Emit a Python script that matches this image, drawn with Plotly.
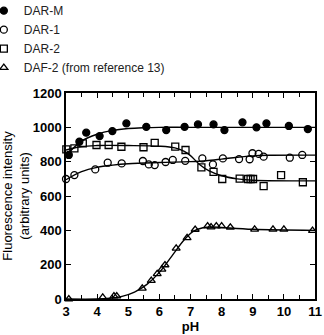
import plotly.graph_objects as go

# --- data ---
darm_ph = [3.09, 3.43, 3.65, 4.08, 4.49, 4.94, 5.58, 6.22, 6.81, 7.24, 7.74, 8.09, 8.67, 9.12, 9.44, 10.16, 10.77]
darm_val = [839, 916, 969, 949, 978, 1023, 1003, 984, 1003, 1017, 1017, 984, 1029, 1000, 1023, 1008, 990]
darm_fit_ph = [3.0, 3.5, 4.0, 4.5, 5.0, 5.5, 6.0, 7.0, 11.0]
darm_fit_val = [835, 920, 960, 982, 993, 998, 1000, 1000, 1000]

dar1_ph = [3.0, 3.27, 3.94, 4.34, 4.79, 5.47, 5.66, 5.85, 6.20, 6.43, 6.83, 7.38, 7.72, 8.04, 8.56, 8.90, 8.99, 9.19, 9.35, 10.19, 10.59]
dar1_val = [699, 722, 755, 794, 790, 804, 784, 780, 798, 810, 805, 819, 784, 819, 815, 814, 849, 845, 829, 823, 839]
dar1_fit_ph = [3.0, 3.5, 4.0, 4.5, 5.0, 6.0, 7.0, 7.5, 8.0, 8.5, 9.0, 9.5, 11.0]
dar1_fit_val = [695, 742, 767, 780, 788, 795, 800, 805, 815, 826, 834, 837, 838]

dar2_ph = [3.01, 3.27, 3.54, 3.98, 4.37, 4.78, 5.49, 5.85, 6.51, 6.84, 7.35, 7.74, 8.02, 8.58, 8.85, 8.93, 9.01, 9.35, 9.91, 10.61]
dar2_val = [872, 878, 907, 897, 897, 887, 884, 909, 888, 868, 767, 740, 699, 701, 699, 699, 699, 658, 722, 680]
dar2_fit_ph = [3.0, 3.5, 4.0, 5.0, 6.0, 6.5, 6.8, 7.0, 7.3, 7.6, 8.0, 8.5, 9.0, 11.0]
dar2_fit_val = [868, 888, 894, 894, 890, 880, 860, 835, 782, 746, 718, 700, 692, 688]

daf2_ph = [3.09, 4.18, 4.54, 4.63, 5.45, 5.74, 5.93, 6.08, 6.18, 6.54, 6.89, 7.15, 7.55, 7.66, 7.83, 8.00, 8.28, 9.06, 9.65, 10.00, 10.92]
daf2_val = [0, 10, 17, 17, 62, 107, 146, 173, 198, 295, 356, 405, 425, 419, 425, 425, 418, 406, 406, 406, 398]
daf2_fit_ph = [3.0, 4.0, 4.4, 4.8, 5.2, 5.6, 6.0, 6.4, 6.8, 7.1, 7.4, 7.7, 8.0, 9.0, 11.0]
daf2_fit_val = [0, 0, 4, 15, 40, 85, 155, 250, 345, 395, 415, 420, 417, 406, 400]

names = ["DAR-M", "DAR-1", "DAR-2", "DAF-2 (from reference 13)"]
symbols = ["circle", "circle-open", "square-open", "triangle-up-open"]

x_ticks = [3, 4, 5, 6, 7, 8, 9, 10, 11]
y_ticks = [0, 200, 400, 600, 800, 1000, 1200]

FONT = "Liberation Sans, Arial, Helvetica, sans-serif"

fig = go.Figure()
series = [
    (darm_ph, darm_val, darm_fit_ph, darm_fit_val),
    (dar1_ph, dar1_val, dar1_fit_ph, dar1_fit_val),
    (dar2_ph, dar2_val, dar2_fit_ph, dar2_fit_val),
    (daf2_ph, daf2_val, daf2_fit_ph, daf2_fit_val),
]
for (px, pv, fx, fv), nm, sym in zip(series, names, symbols):
    fig.add_trace(go.Scatter(
        x=fx, y=fv, mode="lines", line=dict(color="black", width=1.4, shape="spline", smoothing=1.0),
        showlegend=False, hoverinfo="skip", cliponaxis=False))
for (px, pv, fx, fv), nm, sym in zip(series, names, symbols):
    fig.add_trace(go.Scatter(
        x=px, y=pv, mode="markers", name=nm,
        marker=dict(symbol=sym, size=7, color="black",
                    line=dict(color="black", width=1.3)),
        cliponaxis=False))

axis_common = dict(
    showline=True, linecolor="black", linewidth=1.5, mirror="ticks",
    ticks="inside", ticklen=5, tickwidth=1.2, tickcolor="black",
    showgrid=False, zeroline=False,
    tickfont=dict(family=FONT, size=13, color="black", weight="bold"),
)

fig.update_xaxes(
    range=[3, 11], tickvals=x_ticks, ticktext=[str(v) for v in x_ticks],
    minor=dict(dtick=0.5, ticks="inside", ticklen=4, tickcolor="black", tickwidth=1),
    title=dict(text="pH", font=dict(family=FONT, size=13, color="black", weight="bold"), standoff=2),
    **axis_common)
fig.update_yaxes(
    range=[0, 1200], tickvals=y_ticks, ticktext=[str(v) for v in y_ticks],
    title=dict(text="Fluorescence intensity<br>(arbitrary units)",
               font=dict(family=FONT, size=13, color="black"), standoff=2),
    **axis_common)

fig.update_layout(
    width=324, height=335,
    margin=dict(l=66, r=9, t=93, b=36, autoexpand=False),
    paper_bgcolor="white", plot_bgcolor="white",
    font=dict(family=FONT, color="black"),
    showlegend=True,
    legend=dict(x=-0.33, y=1.47, xanchor="left", yanchor="top",
                orientation="v",
                font=dict(family=FONT, size=12, color="#222"),
                bgcolor="rgba(0,0,0,0)", itemwidth=30, tracegroupgap=0),
)

fig.write_html("out.html")
